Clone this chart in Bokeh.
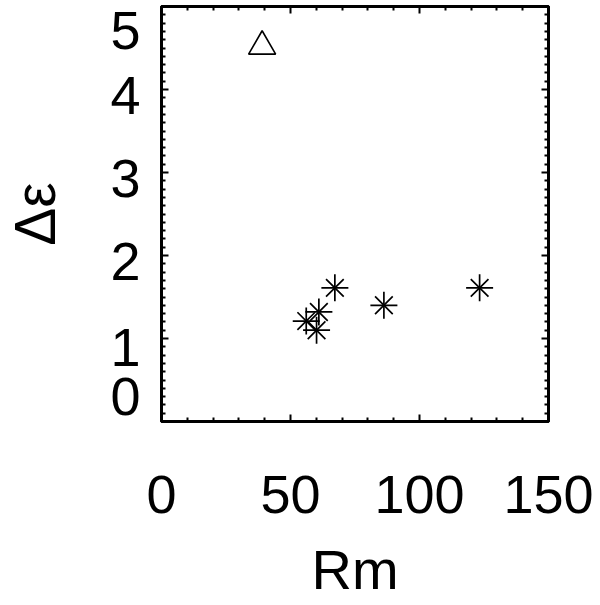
from bokeh.plotting import figure
from bokeh.models import Range1d, LinearAxis, FixedTicker, ColumnDataSource
from bokeh.embed import file_html
from bokeh.resources import INLINE

# ---- data ----
rm_star = [123.3, 86.2, 67.2, 61.0, 56.1, 60.1]
de_star = [1.61, 1.40, 1.61, 1.32, 1.21, 1.10]
rm_tri = [39.0]
de_tri = [4.52]

x_ticks = [0, 50, 100, 150]
y_ticks = [0, 1, 2, 3, 4, 5]
y_tick_labels = ["0", "1", "2", "3", "4", "5"]

FONT = "Liberation Sans"
W, H = 600, 618
FRAME_TOP, FRAME_BOTTOM = 6, 421          # canvas px
FRAME_LEFT, FRAME_RIGHT = 161, 548
PX_PER_Y = (FRAME_BOTTOM - FRAME_TOP) / 5.0
# IDL-like label nudges in screen px (positive = downward)
Y_LABEL_NUDGE = [-25, 9, 6, 6, 5.5, 24]

p = figure(width=W, height=H, output_backend="svg", toolbar_location=None,
           x_range=Range1d(0, 150), y_range=Range1d(0, 5),
           min_border_left=FRAME_LEFT, min_border_right=W - FRAME_RIGHT,
           min_border_top=FRAME_TOP, min_border_bottom=H - FRAME_BOTTOM,
           x_axis_label="Rm")
p.grid.visible = False
p.background_fill_color = "white"
p.border_fill_color = "white"
p.outline_line_color = "black"
p.outline_line_width = 3

def tick_axis(ax, ticks, minor):
    ax.ticker = FixedTicker(ticks=ticks, minor_ticks=minor)
    ax.axis_line_width = 3
    ax.axis_line_color = "black"
    ax.major_tick_in = 7
    ax.major_tick_out = 0
    ax.minor_tick_in = 4
    ax.minor_tick_out = 0
    ax.major_tick_line_width = 2
    ax.minor_tick_line_width = 2
    ax.major_tick_line_color = "black"
    ax.minor_tick_line_color = "black"

def hide_labels(ax):
    ax.major_label_text_color = None
    ax.major_label_text_font_size = "1px"
    ax.major_label_standoff = 0

x_minor = [v for v in range(0, 151, 10) if v not in x_ticks]
y_minor = [round(i * 0.1, 2) for i in range(0, 51) if i % 10 != 0]

for ax in p.xaxis:
    tick_axis(ax, x_ticks, x_minor)
    ax.major_label_text_font = FONT
    ax.major_label_text_font_size = "54px"
    ax.major_label_text_color = "black"
    ax.major_label_standoff = 54
    ax.axis_label_text_font = FONT
    ax.axis_label_text_font_size = "56px"
    ax.axis_label_text_font_style = "normal"
    ax.axis_label_text_color = "black"
    ax.axis_label_standoff = 22

# left: tick-only axis next to the frame
for ax in p.yaxis:
    tick_axis(ax, y_ticks, y_minor)
    hide_labels(ax)

# left: label axis (numbers placed IDL-style) + title
lab_pos = [v - n / PX_PER_Y for v, n in zip(y_ticks, Y_LABEL_NUDGE)]
lab = LinearAxis(axis_label="Δε")
lab.ticker = FixedTicker(ticks=lab_pos, minor_ticks=[])
lab.major_label_overrides = {pos: t for pos, t in zip(lab_pos, y_tick_labels)}
lab.axis_line_color = None
lab.major_tick_line_color = None
lab.minor_tick_line_color = None
lab.major_tick_in = 0
lab.major_tick_out = 0
lab.minor_tick_in = 0
lab.minor_tick_out = 0
lab.major_label_text_font = FONT
lab.major_label_text_font_size = "54px"
lab.major_label_text_color = "black"
lab.major_label_standoff = 21
lab.axis_label_text_font = FONT
lab.axis_label_text_font_size = "57px"
lab.axis_label_text_font_style = "normal"
lab.axis_label_text_color = "black"
lab.axis_label_standoff = 40
p.add_layout(lab, "left")

top = LinearAxis()
tick_axis(top, x_ticks, x_minor)
hide_labels(top)
p.add_layout(top, "above")

right = LinearAxis()
tick_axis(right, y_ticks, y_minor)
hide_labels(right)
p.add_layout(right, "right")

star_src = ColumnDataSource(dict(x=rm_star, y=de_star))
p.scatter("x", "y", source=star_src, marker="cross", size=27, line_color="black", line_width=1.7)
p.scatter("x", "y", source=star_src, marker="x", size=25, line_color="black", line_width=1.7)
p.scatter(rm_tri, de_tri, marker="triangle", size=27, fill_color=None, line_color="black", line_width=1.6)

open("out.html", "w").write(file_html(p, INLINE))
